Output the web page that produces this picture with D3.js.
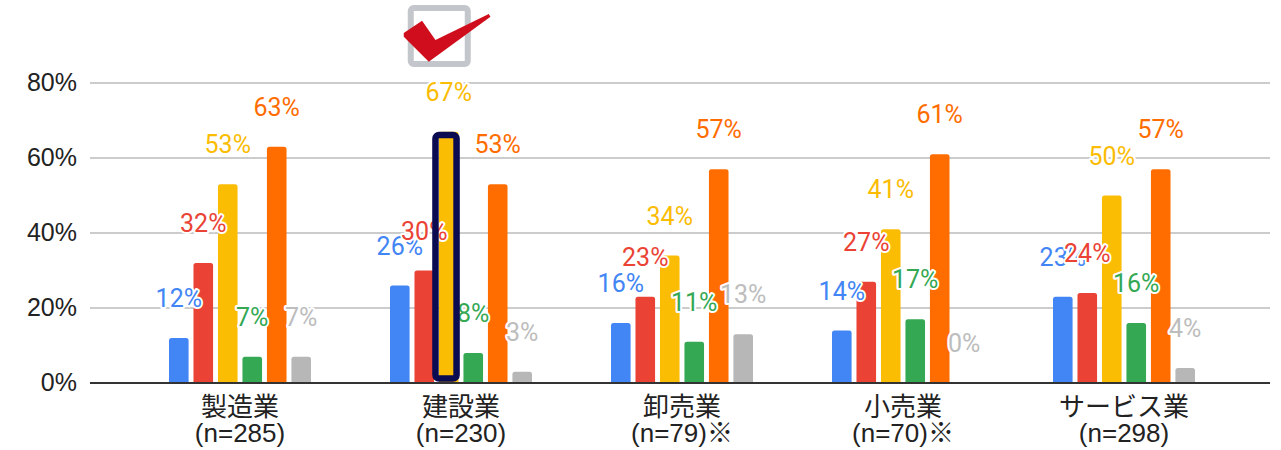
<!DOCTYPE html>
<html>
<head>
<meta charset="utf-8">
<script src="https://cdn.jsdelivr.net/npm/d3@7"></script>
<style>
  html, body { margin: 0; padding: 0; background: #fff; }
  svg { display: block; }
</style>
</head>
<body>
<div id="chart"></div>
<script>
// Industry groups and their sample sizes
const categories = ["製造業", "建設業", "卸売業", "小売業", "サービス業"];
const sampleSizes = ["(n=285)", "(n=230)", "(n=79)※", "(n=70)※", "(n=298)"];

// One array per answer option (percent of respondents per industry)
const series1 = [12, 26, 16, 14, 23];
const series2 = [32, 30, 23, 27, 24];
const series3 = [53, 67, 34, 41, 50];
const series4 = [7, 8, 11, 17, 16];
const series5 = [63, 53, 57, 61, 57];
const series6 = [7, 3, 13, 0, 4];

const yTicks = [0, 20, 40, 60, 80];

// Highlighted bar: industry index / option index
const highlightCategory = 1;
const highlightSeries = 2;

const allSeries = [series1, series2, series3, series4, series5, series6];
const barColors = ["#4285F4", "#EA4335", "#FBBC04", "#34A853", "#FF6D01", "#B7B7B7"];
const labelColors = ["#4285F4", "#EA4335", "#FBBC04", "#34A853", "#FF6D01", "#BDBDBD"];

const W = 1281, H = 450;
const svg = d3.select("#chart").append("svg").attr("width", W).attr("height", H);

const y = d3.scaleLinear().domain([0, 80]).range([383, 83]);
const x0 = d3.scaleBand().domain(categories).range([129.5, 1234.5]).padding(0);
const half = x0.bandwidth() / 2;
const x1 = d3.scaleBand().domain(d3.range(allSeries.length)).range([half - 71, half + 71]).paddingInner(0.2).paddingOuter(0);
const bw = x1.bandwidth();

// Gridlines
svg.append("g").selectAll("line").data(yTicks).join("line")
  .attr("x1", 90).attr("x2", 1270)
  .attr("y1", d => y(d)).attr("y2", d => y(d))
  .attr("stroke", "#cccccc").attr("stroke-width", 2);

// Y-axis tick labels
svg.append("g").selectAll("text").data(yTicks).join("text")
  .attr("x", 77).attr("y", d => y(d)).attr("dy", "0.33em")
  .attr("text-anchor", "end")
  .attr("font-family", "'Liberation Sans', Arial, sans-serif")
  .attr("font-size", 25).attr("fill", "#222")
  .text(d => d + "%");

// Flattened bar records
const bars = [];
categories.forEach((c, ci) => {
  allSeries.forEach((s, si) => {
    bars.push({ c, ci, si, v: s[ci] });
  });
});

function barPath(x, yTop, w, yBase, r) {
  const h = yBase - yTop;
  if (h <= 0) return "";
  r = Math.min(r, h, w / 2);
  return `M${x},${yBase}V${yTop + r}Q${x},${yTop} ${x + r},${yTop}H${x + w - r}Q${x + w},${yTop} ${x + w},${yTop + r}V${yBase}Z`;
}

svg.append("g").selectAll("path").data(bars).join("path")
  .attr("d", d => barPath(x0(d.c) + x1(d.si), y(d.v), bw, y(0), 2.5))
  .attr("fill", d => barColors[d.si]);

// Baseline
svg.append("line")
  .attr("x1", 90).attr("x2", 1270).attr("y1", y(0)).attr("y2", y(0))
  .attr("stroke", "#333").attr("stroke-width", 2);

// Value labels with white halo
svg.append("g").selectAll("text").data(bars).join("text")
  .attr("x", d => x0(d.c) + x1(d.si) + bw / 2)
  .attr("y", d => y(d.v) - 31)
  .attr("text-anchor", "middle")
  .attr("font-family", "Roboto, 'Liberation Sans', sans-serif")
  .attr("font-size", 25)
  .attr("fill", d => labelColors[d.si])
  .attr("stroke", "#fff").attr("stroke-width", 4).attr("stroke-linejoin", "round")
  .attr("paint-order", "stroke")
  .text(d => d.v + "%");

// Selection outline on the highlighted bar
const hc = categories[highlightCategory];
const hv = allSeries[highlightSeries][highlightCategory];
const hx = x0(hc) + x1(highlightSeries);
svg.append("rect")
  .attr("x", hx - 3.5).attr("y", y(hv) + 3.25)
  .attr("width", bw + 1.5).attr("height", (y(0) - 4.5) - (y(hv) + 3.25))
  .attr("rx", 3.5)
  .attr("fill", "none").attr("stroke", "#0b0b52").attr("stroke-width", 6.5);

// Checkbox icon above the highlighted bar
const defs = svg.append("defs");
defs.append("filter").attr("id", "soft")
  .append("feGaussianBlur").attr("stdDeviation", 0.5);
const icon = svg.append("g")
  .attr("transform", `translate(${hx + bw / 2 - 9.5},36)`)
  .attr("filter", "url(#soft)");
icon.append("rect")
  .attr("x", -28.5).attr("y", -28).attr("width", 57).attr("height", 56).attr("rx", 3)
  .attr("fill", "none").attr("stroke", "#c3c6cb").attr("stroke-width", 6);
icon.append("path")
  .attr("d", "M-35.5,-3 L-17.2,-15.3 L-3.8,4 L49.5,-22 L51.2,-19.3 L-10.5,25.7 L-35.5,0.7 Z")
  .attr("fill", "#d0111b");

// Category labels (two lines)
const xl = svg.append("g").selectAll("text").data(categories).join("text")
  .attr("text-anchor", "middle")
  .attr("font-family", "'Liberation Sans', Arial, 'Noto Sans CJK JP', sans-serif")
  .attr("font-size", 26).attr("fill", "#222");
xl.append("tspan")
  .attr("x", d => x0(d) + half).attr("y", 416)
  .text(d => d);
xl.append("tspan")
  .attr("x", d => x0(d) + half).attr("y", 442)
  .text((d, i) => sampleSizes[i]);
</script>
</body>
</html>
